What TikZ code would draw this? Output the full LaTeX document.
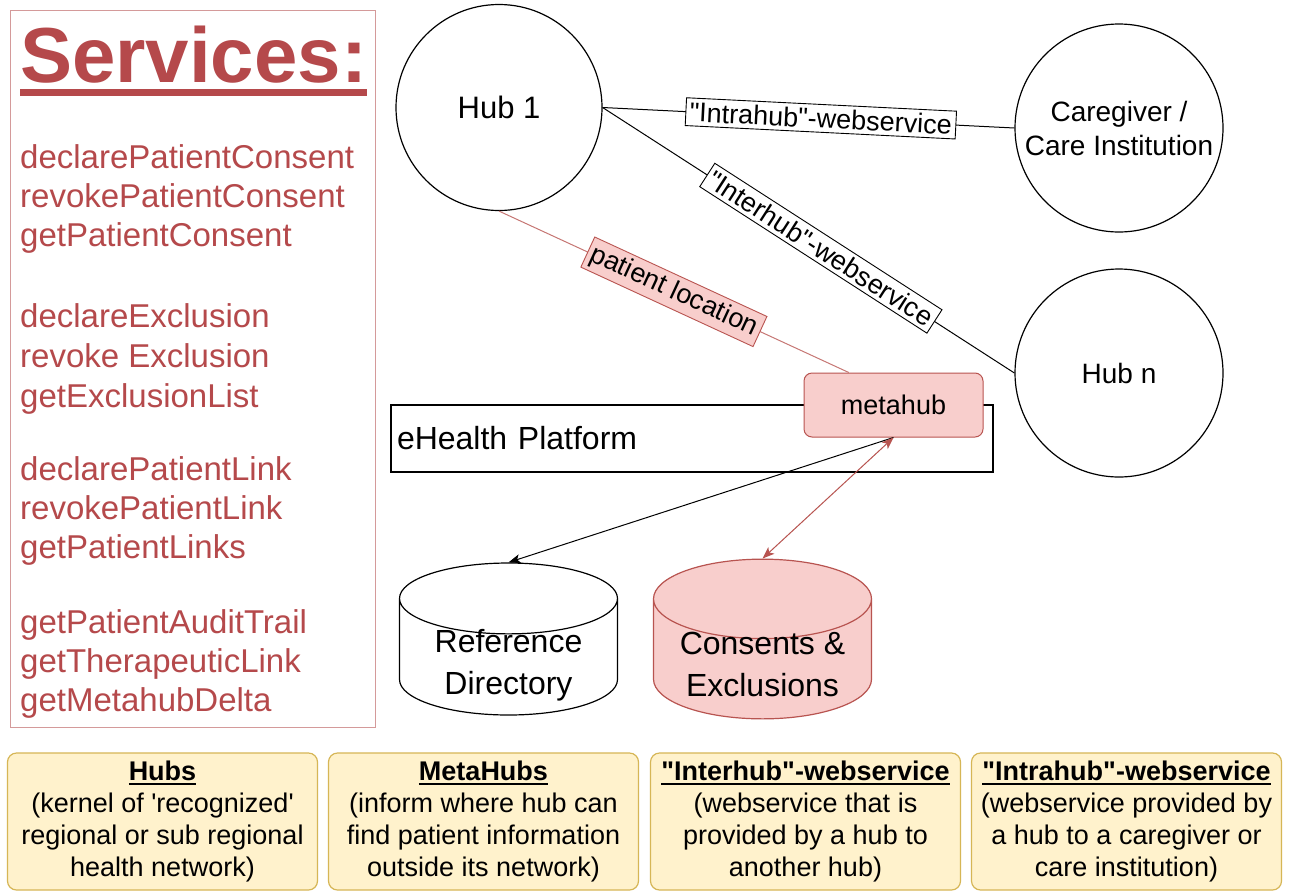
\documentclass[tikz,border=0pt]{standalone}
\usepackage{fontspec}
\setmainfont{Liberation Sans}
\usetikzlibrary{shapes.geometric, arrows.meta, positioning}

\definecolor{pinkfill}{HTML}{F8CECC}
\definecolor{pinkline}{HTML}{B85450}
\definecolor{notefill}{HTML}{FFF2CC}
\definecolor{noteline}{HTML}{D6B656}
\definecolor{svcred}{HTML}{B5494B}
\definecolor{svcframe}{HTML}{D49A9A}

% bold header with a rule under it
\newcommand{\ulhead}[1]{\leavevmode\setbox0=\hbox{\bfseries #1}\rlap{\copy0}\raisebox{-4pt}{\rule{\wd0}{1.6pt}}}
\newcommand{\qq}{\textquotedbl}
% two lines in a box of fixed height, for the cylinders
\newcommand{\dbtext}[2]{\raisebox{-14pt}[20pt][20pt]{\begin{tabular}{@{}c@{}}#1\\#2\end{tabular}}}

\tikzset{
  hub/.style={circle, draw, line width=1.2pt, minimum size=208pt, inner sep=0pt,
    align=center, font=\fontsize{28}{34}\selectfont},
  wslabel/.style={draw, fill=white, text=black, sloped, inner sep=4pt, line width=0.9pt,
    font=\fontsize{27}{32}\selectfont},
  loclabel/.style={wslabel, fill=pinkfill, draw=pinkline},
  platform/.style={rectangle, draw, line width=1.2pt, minimum width=602pt,
    minimum height=67pt, text width=590pt, align=left, inner sep=6pt,
    font=\fontsize{32}{38}\selectfont},
  metabox/.style={rectangle, rounded corners=8pt, draw=pinkline, fill=pinkfill,
    line width=1pt, minimum width=179pt, minimum height=64pt,
    font=\fontsize{27}{32}\selectfont},
  db/.style={cylinder, shape border rotate=90, aspect=0.48, draw, line width=1.2pt,
    minimum width=218pt, minimum height=152pt, inner sep=0pt, anchor=shape center,
    font=\fontsize{32}{42}\selectfont},
  svcitem/.style={anchor=base west, inner sep=0pt, text=svcred,
    font=\fontsize{33}{39}\selectfont},
  note/.style={rectangle, rounded corners=9pt, draw=noteline, fill=notefill,
    line width=1.2pt, minimum width=310pt, minimum height=137pt, align=center,
    font=\fontsize{27}{32}\selectfont},
  link/.style={line width=1pt},
  tip/.style={line width=1pt, -{Stealth[length=12pt, width=9pt, inset=3pt]}},
  tips/.style={line width=1pt, {Stealth[length=12pt, width=9pt, inset=3pt]}-{Stealth[length=12pt, width=9pt, inset=3pt]}}
}

\begin{document}
\begin{tikzpicture}[x=1pt, y=-1pt]

  \path[use as bounding box, fill=white] (0,0) rectangle (1290,892);

  % Services list
  \node[draw=svcframe, line width=1pt, minimum width=365pt, minimum height=717pt]
    (services) at (192.5,368.5) {};
  \node[anchor=base west, inner sep=0pt, text=svcred,
    font=\fontsize{78}{80}\selectfont\bfseries] (title) at (20,82) {Services:};
  \draw[svcred, line width=7pt] ([yshift=-10pt]title.base west) -- ([yshift=-10pt]title.base east);

  \foreach \name/\yb [count=\i] in {declarePatientConsent/168, revokePatientConsent/207,
      getPatientConsent/246, declareExclusion/327, revoke Exclusion/367,
      getExclusionList/407, declarePatientLink/480, revokePatientLink/519,
      getPatientLinks/558, getPatientAuditTrail/633, getTherapeuticLink/672,
      getMetahubDelta/711}
    \node[svcitem] (svc\i) at (20,\yb) {\name};

  % Define nodes
  \node[hub, minimum size=206pt, font=\fontsize{31}{36}\selectfont] (hubone) at (499,107.5) {Hub 1};
  \node[hub] (care) at (1119,128) {Caregiver /\\Care Institution};
  \node[hub, font=\fontsize{28}{32}\selectfont] (hubn) at (1119,373) {Hub n};

  \node[platform] (ehealth) at (692,438.5) {eHealth Platform};
  \node[metabox] (metahub) at (893.5,405) {metahub};

  \node[db] (refdir) at (508.5,639) {\dbtext{Reference}{Directory}};
  \node[db, fill=pinkfill, draw=pinkline] (consents) at (762.5,639) {\dbtext{Consents \&}{Exclusions}};

  % Connect the nodes
  \draw[link] (hubone.east) -- node[wslabel, pos=0.53] (intralbl) {\qq Intrahub\qq-webservice} (care.west);
  \draw[link] (hubone.east) -- node[wslabel, pos=0.53] (interlbl) {\qq Interhub\qq-webservice} (hubn.west);
  \draw[link, pinkline!80] (hubone.south) -- node[loclabel, pos=0.5] (loclbl) {patient location} (metahub.144);

  \draw[tip] (metahub.south) -- (refdir.north);
  \draw[tips, pinkline] (metahub.south) -- (consents.north);

  % Legend
  \node[note] (hubs) at (162.5,821.5)
    {\ulhead{Hubs}\\(kernel of \textquotesingle recognized\textquotesingle\\regional or sub regional\\health network)};
  \node[note] (metahubs) at (483.5,821.5)
    {\ulhead{MetaHubs}\\(inform where hub can\\find patient information\\outside its network)};
  \node[note] (interhub) at (805.5,821.5)
    {\ulhead{\qq Interhub\qq-webservice}\\(webservice that is\\provided by a hub to\\another hub)};
  \node[note] (intrahub) at (1126.5,821.5)
    {\ulhead{\qq Intrahub\qq-webservice}\\(webservice provided by\\a hub to a caregiver or\\care institution)};

\end{tikzpicture}
\end{document}
